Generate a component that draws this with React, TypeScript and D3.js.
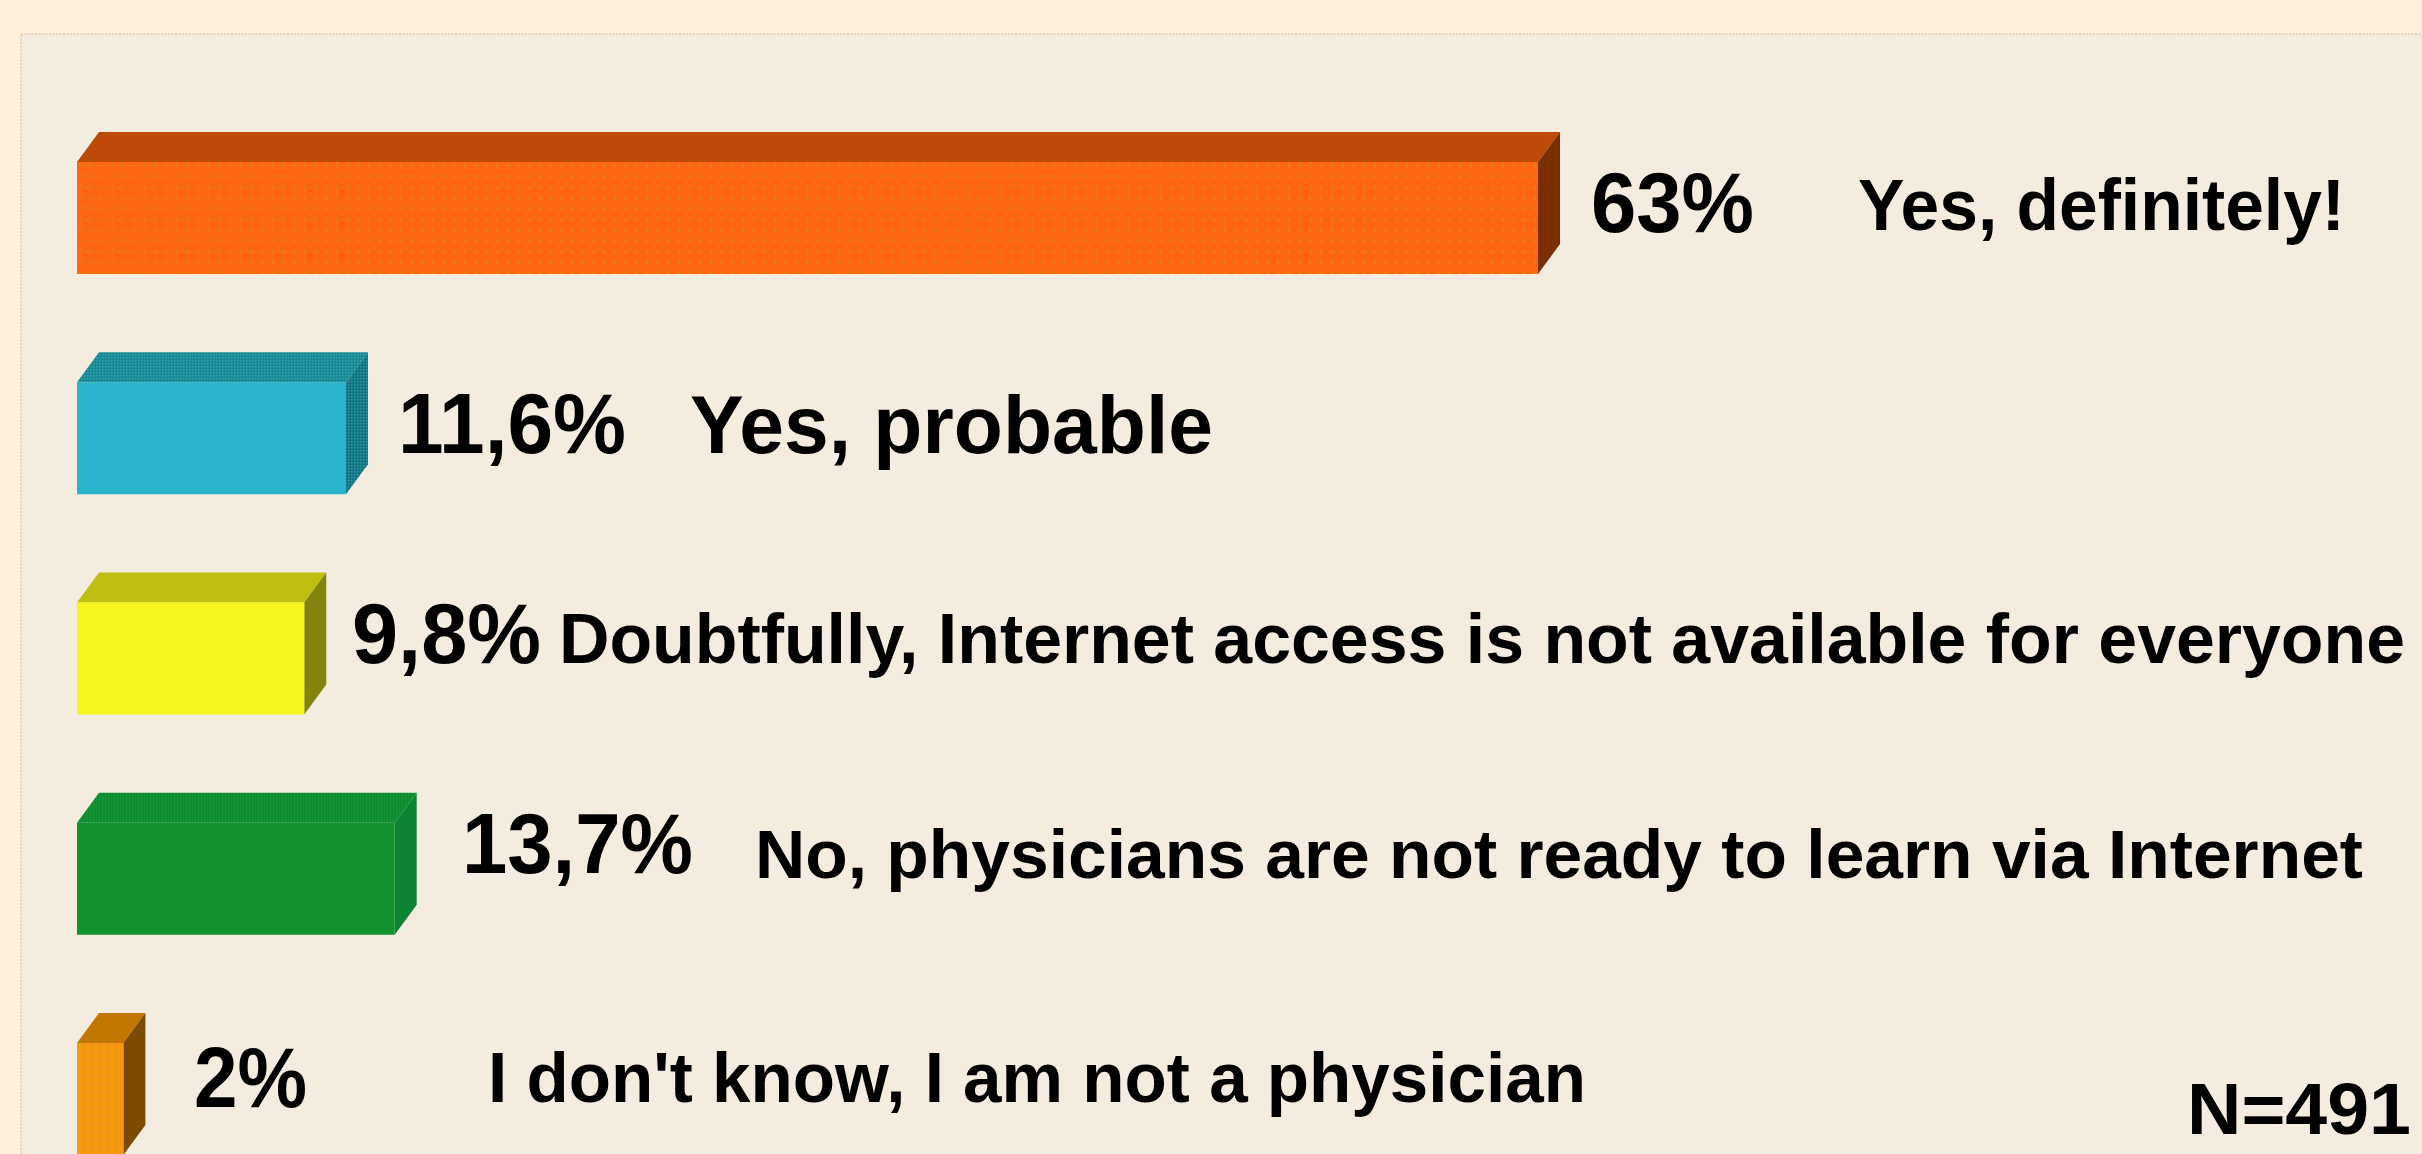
import React from "react";
import * as d3 from "d3";

// ---- data ----
const categories = [
  "Yes, definitely!",
  "Yes, probable",
  "Doubtfully, Internet access is not available for everyone",
  "No, physicians are not ready to learn via Internet",
  "I don't know, I am not a physician",
];
const values = [63, 11.6, 9.8, 13.7, 2];
const valueLabels = ["63%", "11,6%", "9,8%", "13,7%", "2%"];
const sampleNote = "N=491";

// ---- styles / layout ----
const W = 2422;
const H = 1154;
const frontColors = ["#FF6611", "#29B3CC", "#F6F61E", "#11922F", "#F6990F"];
const topColors = ["#BD4A08", "#1E8F9C", "#BFBF12", "#0F8A2D", "#C27800"];
const sideColors = ["#7A2F00", "#1A7C86", "#83830E", "#0B8533", "#7C4A00"];
const patternIds = ["dotsOrange", null, null, null, "dotsAmber"];
const valueX = [1591, 398, 352, 462, 194];
const valueW = [163, 228, 189, 231, 113];
const labelX = [1858, 690, 559, 755, 488];
const labelW = [487, 523, 1846, 1608, 1098];
const valueBaseline = [232, 453, 663, 873, 1107];
const labelBaseline = [230, 453, 663, 878, 1102];
const valueFont = 85;
const labelFont = [72, 82, 70, 68, 70];
const DX = 22;
const DY = 30;
const FONT = "'Liberation Sans', Arial, Helvetica, sans-serif";

export default function App() {
  const x = d3.scaleLinear().domain([0, 63]).range([77, 1538]);
  const y = d3
    .scaleBand<string>()
    .domain(categories)
    .range([162, 1155])
    .paddingInner(0.4914)
    .paddingOuter(0);
  const bh = y.bandwidth();

  return (
    <svg
      width={W}
      height={H}
      style={{ position: "absolute", left: 0, top: 0, display: "block" }}
      xmlns="http://www.w3.org/2000/svg"
    >
      <defs>
        <pattern id="dotsOrange" width={10.7} height={10.7} patternUnits="userSpaceOnUse">
          <rect width={10.7} height={10.7} fill="#FF6611" />
          <circle cx={5} cy={5} r={1.3} fill="#D98A18" />
        </pattern>
        <pattern id="dotsAmber" width={8} height={8} patternUnits="userSpaceOnUse">
          <rect width={8} height={8} fill="#F6990F" />
          <circle cx={4} cy={4} r={1.1} fill="#E9882A" />
        </pattern>
        <pattern id="ditherTeal" width={3} height={3} patternUnits="userSpaceOnUse">
          <rect width={3} height={3} fill="#1B8793" />
          <rect width={1.5} height={1.5} fill="#2AA8B6" />
        </pattern>
        <pattern id="ditherTealSide" width={3} height={3} patternUnits="userSpaceOnUse">
          <rect width={3} height={3} fill="#157280" />
          <rect width={1.5} height={1.5} fill="#2A9AA6" />
        </pattern>
        <pattern id="stripeGreen" width={3} height={6} patternUnits="userSpaceOnUse">
          <rect width={3} height={6} fill="#0F8A2D" />
          <rect width={1.2} height={6} fill="#12963A" />
        </pattern>
      </defs>

      <rect x={0} y={0} width={W} height={H} fill="#FFF0DE" />
      <rect
        x={21}
        y={34}
        width={W + 10}
        height={H + 10}
        fill="#F5ECE0"
        stroke="#E6C9A6"
        strokeWidth={1.5}
        strokeDasharray="2 1.5"
      />

      {categories.map((c, i) => {
        const x0 = x(0);
        const x1 = x(values[i]);
        const y0 = y(c) as number;
        const y1 = y0 + bh;
        const topPath = `M${x0},${y0} L${x0 + DX},${y0 - DY} L${x1 + DX},${y0 - DY} L${x1},${y0} Z`;
        const sidePath = `M${x1},${y0} L${x1 + DX},${y0 - DY} L${x1 + DX},${y1 - DY} L${x1},${y1} Z`;
        const topFill = i === 1 ? "url(#ditherTeal)" : i === 3 ? "url(#stripeGreen)" : topColors[i];
        const sideFill = i === 1 ? "url(#ditherTealSide)" : sideColors[i];
        const frontFill = patternIds[i] ? `url(#${patternIds[i]})` : frontColors[i];
        return (
          <g key={c}>
            <path d={topPath} fill={topFill} />
            <path d={sidePath} fill={sideFill} />
            <rect x={x0} y={y0} width={x1 - x0} height={bh} fill={frontFill} />
            <text
              x={valueX[i]}
              y={valueBaseline[i]}
              fontFamily={FONT}
              fontWeight="bold"
              fontSize={valueFont}
              textLength={valueW[i]}
              lengthAdjust="spacingAndGlyphs"
              fill="#000"
            >
              {valueLabels[i]}
            </text>
            <text
              x={labelX[i]}
              y={labelBaseline[i]}
              fontFamily={FONT}
              fontWeight="bold"
              fontSize={labelFont[i]}
              textLength={labelW[i]}
              lengthAdjust="spacingAndGlyphs"
              fill="#000"
            >
              {c}
            </text>
          </g>
        );
      })}

      <text
        x={2187}
        y={1134}
        fontFamily={FONT}
        fontWeight="bold"
        fontSize={72}
        textLength={224}
        lengthAdjust="spacingAndGlyphs"
        fill="#000"
      >
        {sampleNote}
      </text>
    </svg>
  );
}
